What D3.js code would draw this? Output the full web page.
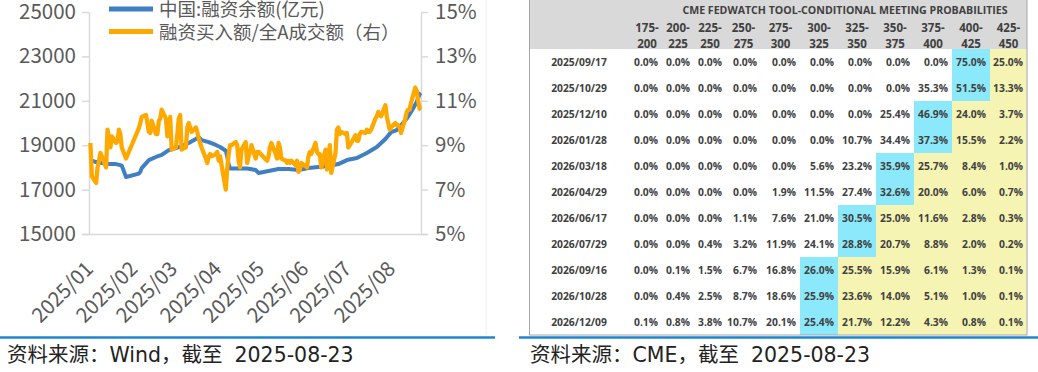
<!DOCTYPE html>
<html><head><meta charset="utf-8">
<script src="https://cdn.jsdelivr.net/npm/d3@7"></script>
<style>body{margin:0;background:#fff}svg{display:block}</style>
</head><body><svg id="c" width="1038" height="372"></svg>
<script>
// ---------- Left chart data ----------
const seriesNames = ["中国:融资余额(亿元)", "融资买入额/全A成交额（右）"];
const leftTicks = [15000, 17000, 19000, 21000, 23000, 25000];
const rightTicks = [5, 7, 9, 11, 13, 15];
const monthTicks = ["2025-01-01","2025-02-01","2025-03-01","2025-04-01","2025-05-01","2025-06-01","2025-07-01","2025-08-01"];
const monthLabels = ["2025/01","2025/02","2025/03","2025/04","2025/05","2025/06","2025/07","2025/08"];

const balanceDates = ["2025-01-02","2025-01-06","2025-01-10","2025-01-15","2025-01-20","2025-01-23","2025-01-24","2025-01-27","2025-02-05","2025-02-06","2025-02-07","2025-02-12","2025-02-17","2025-02-21","2025-02-26","2025-03-03","2025-03-07","2025-03-12","2025-03-17","2025-03-19","2025-03-21","2025-03-26","2025-03-31","2025-04-03","2025-04-07","2025-04-08","2025-04-09","2025-04-10","2025-04-15","2025-04-22","2025-04-28","2025-04-30","2025-05-07","2025-05-14","2025-05-21","2025-05-28","2025-06-04","2025-06-11","2025-06-18","2025-06-25","2025-07-01","2025-07-08","2025-07-15","2025-07-22","2025-07-28","2025-08-01","2025-08-05","2025-08-08","2025-08-12","2025-08-15","2025-08-19","2025-08-21","2025-08-22"];
const balanceValues = [18330,18240,18200,18150,18150,18100,18080,17570,17720,17800,17970,18330,18470,18560,18780,18870,18960,19100,19280,19370,19230,19140,19010,18920,18750,18500,18150,17950,17950,17950,17880,17750,17840,17930,17930,17880,17970,18020,18060,18150,18330,18420,18650,18920,19280,19590,19680,19900,20200,20500,20950,21300,21350];

const ratioDates = ["2025-01-02","2025-01-03","2025-01-06","2025-01-07","2025-01-08","2025-01-09","2025-01-10","2025-01-13","2025-01-14","2025-01-15","2025-01-16","2025-01-17","2025-01-20","2025-01-21","2025-01-22","2025-01-23","2025-01-24","2025-01-27",
"2025-02-05","2025-02-06","2025-02-07","2025-02-10","2025-02-11","2025-02-12","2025-02-13","2025-02-14","2025-02-17","2025-02-18","2025-02-19","2025-02-20","2025-02-21","2025-02-24","2025-02-25","2025-02-26","2025-02-27","2025-02-28",
"2025-03-03","2025-03-04","2025-03-05","2025-03-06","2025-03-07","2025-03-10","2025-03-11","2025-03-12","2025-03-13","2025-03-14","2025-03-17","2025-03-18","2025-03-19","2025-03-20","2025-03-21","2025-03-24","2025-03-25","2025-03-26","2025-03-27","2025-03-28","2025-03-31",
"2025-04-01","2025-04-02","2025-04-03","2025-04-07","2025-04-08","2025-04-09","2025-04-10","2025-04-11","2025-04-14","2025-04-15","2025-04-16","2025-04-17","2025-04-18","2025-04-21","2025-04-22","2025-04-23","2025-04-24","2025-04-25","2025-04-28","2025-04-29","2025-04-30",
"2025-05-06","2025-05-07","2025-05-08","2025-05-09","2025-05-12","2025-05-13","2025-05-14","2025-05-15","2025-05-16","2025-05-19","2025-05-20","2025-05-21","2025-05-22","2025-05-23","2025-05-26","2025-05-27","2025-05-28","2025-05-29","2025-05-30",
"2025-06-03","2025-06-04","2025-06-05","2025-06-06","2025-06-09","2025-06-10","2025-06-11","2025-06-12","2025-06-13","2025-06-16","2025-06-17","2025-06-18","2025-06-19","2025-06-20","2025-06-23","2025-06-24","2025-06-25","2025-06-26","2025-06-27","2025-06-30",
"2025-07-01","2025-07-02","2025-07-03","2025-07-04","2025-07-07","2025-07-08","2025-07-09","2025-07-10","2025-07-11","2025-07-14","2025-07-15","2025-07-16","2025-07-17","2025-07-18","2025-07-21","2025-07-22","2025-07-23","2025-07-24","2025-07-25","2025-07-28","2025-07-29","2025-07-30","2025-07-31",
"2025-08-01","2025-08-04","2025-08-05","2025-08-06","2025-08-07","2025-08-08","2025-08-11","2025-08-12","2025-08-13","2025-08-14","2025-08-15","2025-08-18","2025-08-19","2025-08-20","2025-08-21","2025-08-22"];
const ratioValues = [9.1,7.6,7.3,8.0,8.3,8.65,8.5,8.0,9.7,9.3,8.9,9.4,9.1,9.2,9.7,9.5,8.9,8.4,
9.77,10.0,10.27,10.36,10.0,9.6,9.55,10.1,9.5,9.5,10.1,10.2,10.6,10.2,9.4,9.6,10.27,8.8,
8.9,9.5,10.2,10.36,8.8,8.9,9.8,10.0,9.8,9.6,9.8,9.6,9.3,9.1,8.9,8.4,8.2,8.5,8.6,8.5,8.6,
8.7,8.3,8.5,7.0,7.95,8.6,9.0,9.0,9.14,9.0,8.3,8.0,8.8,9.14,8.2,8.5,8.7,9.0,8.4,8.7,8.7,
8.3,8.5,8.9,9.1,8.6,8.4,9.1,8.9,8.4,8.3,8.2,8.3,8.2,8.3,8.1,8.3,7.8,7.9,8.2,
8.0,8.5,8.7,8.6,9.1,8.7,8.6,8.6,8.0,8.8,7.9,8.5,9.0,7.75,8.65,9.7,9.8,9.5,9.6,9.5,
9.55,8.9,9.0,9.1,9.45,9.2,9.2,9.5,9.6,9.55,9.7,9.6,9.6,9.7,10.2,10.3,10.5,10.4,10.3,10.8,10.3,10.0,9.7,
9.8,10.0,9.9,9.9,9.8,9.55,10.2,10.5,10.6,10.6,10.9,11.6,11.45,11.0,10.65,10.6];

const sourceLeft = ["资料来源：Wind，截至", "2025-08-23"];
const sourceRight = ["资料来源：CME，截至", "2025-08-23"];

// ---------- Right table data ----------
const tableTitle = "CME FEDWATCH TOOL-CONDITIONAL MEETING PROBABILITIES";
const rateBuckets = [["175-","200"],["200-","225"],["225-","250"],["250-","275"],["275-","300"],["300-","325"],["325-","350"],["350-","375"],["375-","400"],["400-","425"],["425-","450"]];
const meetingDates = ["2025/09/17","2025/10/29","2025/12/10","2026/01/28","2026/03/18","2026/04/29","2026/06/17","2026/07/29","2026/09/16","2026/10/28","2026/12/09"];
const probRows = [
 [0.0,0.0,0.0,0.0,0.0,0.0,0.0,0.0,0.0,75.0,25.0],
 [0.0,0.0,0.0,0.0,0.0,0.0,0.0,0.0,35.3,51.5,13.3],
 [0.0,0.0,0.0,0.0,0.0,0.0,0.0,25.4,46.9,24.0,3.7],
 [0.0,0.0,0.0,0.0,0.0,0.0,10.7,34.4,37.3,15.5,2.2],
 [0.0,0.0,0.0,0.0,0.0,5.6,23.2,35.9,25.7,8.4,1.0],
 [0.0,0.0,0.0,0.0,1.9,11.5,27.4,32.6,20.0,6.0,0.7],
 [0.0,0.0,0.0,1.1,7.6,21.0,30.5,25.0,11.6,2.8,0.3],
 [0.0,0.0,0.4,3.2,11.9,24.1,28.8,20.7,8.8,2.0,0.2],
 [0.0,0.1,1.5,6.7,16.8,26.0,25.5,15.9,6.1,1.3,0.1],
 [0.0,0.4,2.5,8.7,18.6,25.9,23.6,14.0,5.1,1.0,0.1],
 [0.1,0.8,3.8,10.7,20.1,25.4,21.7,12.2,4.3,0.8,0.1]
];

// ---------- Drawing ----------
const svg = d3.select("#c");
const parse = d3.timeParse("%Y-%m-%d");
const CJK = "'Noto Sans CJK SC','Noto Sans',sans-serif";
const SRC = "'DejaVu Sans','Noto Sans CJK SC',sans-serif";
const gray = "#595959";

const x = d3.scaleTime().domain([parse("2025-01-01"), parse("2025-08-22")]).range([89, 421]);
const yL = d3.scaleLinear().domain([15000, 25000]).range([234, 12]);
const yR = d3.scaleLinear().domain([5, 15]).range([234, 12]);

// faint frame line
svg.append("line").attr("x1",486).attr("x2",486).attr("y1",0).attr("y2",335).attr("stroke","#eeeeee");

function styleAxis(g){
  g.selectAll("path").attr("stroke","#d9d9d9").attr("stroke-width",1.5);
  g.selectAll("line").attr("stroke","#d9d9d9").attr("stroke-width",1.5);
  g.selectAll("text").attr("fill",gray).style("font-family",CJK).style("font-size","20.5px");
}
const gL = svg.append("g").attr("transform","translate(89,0)")
  .call(d3.axisLeft(yL).tickValues(leftTicks).tickSize(7).tickSizeOuter(0).tickPadding(6).tickFormat(d3.format("d")));
styleAxis(gL);
const gR = svg.append("g").attr("transform","translate(421,0)")
  .call(d3.axisRight(yR).tickValues(rightTicks).tickSize(7).tickSizeOuter(0).tickPadding(7).tickFormat(d => d + "%"));
styleAxis(gR);
svg.append("line").attr("x1",82).attr("x2",428).attr("y1",234.5).attr("y2",234.5).attr("stroke","#d9d9d9").attr("stroke-width",1.5);

const gB = svg.append("g").attr("transform","translate(0,234)")
  .call(d3.axisBottom(x).tickValues(monthTicks.map(parse)).tickSize(0)
    .tickFormat((d,i) => monthLabels[i]));
gB.select("path").remove();
gB.selectAll("text").attr("fill",gray).style("font-family",CJK).style("font-size","20.5px")
  .attr("text-anchor","end").attr("dy","0.35em")
  .attr("transform","translate(0,31) rotate(-45)").attr("y",0);

const balance = balanceDates.map((d,i)=>({d:parse(d), v:balanceValues[i]}));
const ratio = ratioDates.map((d,i)=>({d:parse(d), v:ratioValues[i]}));
const colors = ["#3f7fc2", "#ffa800"];
svg.append("path").datum(balance)
  .attr("d", d3.line().x(p=>x(p.d)).y(p=>yL(p.v)))
  .attr("fill","none").attr("stroke",colors[0]).attr("stroke-width",4).attr("stroke-linejoin","round");
svg.append("path").datum(ratio)
  .attr("d", d3.line().x(p=>x(p.d)).y(p=>yR(p.v)))
  .attr("fill","none").attr("stroke",colors[1]).attr("stroke-width",4.3).attr("stroke-linejoin","round");

// legend
seriesNames.forEach((n,i)=>{
  const yy = 10 + i*22.5;
  svg.append("line").attr("x1",109).attr("x2",153).attr("y1",yy-1).attr("y2",yy-1)
    .attr("stroke",colors[i]).attr("stroke-width",5);
  svg.append("text").attr("x",159).attr("y",yy).attr("dy","0.35em").text(n)
    .attr("fill",gray).style("font-family",CJK).style("font-size","18.5px");
});

// source lines
svg.append("line").attr("x1",0).attr("x2",495).attr("y1",337.5).attr("y2",337.5).attr("stroke","#1f86cf").attr("stroke-width",2.5);
svg.append("line").attr("x1",519).attr("x2",1038).attr("y1",337.5).attr("y2",337.5).attr("stroke","#1f86cf").attr("stroke-width",2.5);
[[7, sourceLeft], [530, sourceRight]].forEach(([sx, parts])=>{
  const t = svg.append("text").attr("x",sx).attr("y",362).attr("fill","#222")
    .style("font-family",SRC).style("font-size","20.5px");
  t.append("tspan").text(parts[0]);
  t.append("tspan").attr("dx",12).text(parts[1]);
});

// ---------- table ----------
const TF = "'Open Sans','DejaVu Sans',sans-serif";
const tColor = "#404040";
const colEdges = [632,662,694,726,761,800,838,876,914,952,990,1027];
const tLeft = 529, tRight = 1027, headH = 49, tBottom = 335;
const rowY = d3.scaleBand().domain(meetingDates).range([headH, tBottom]);

svg.append("rect").attr("x",tLeft).attr("y",0).attr("width",tRight-tLeft).attr("height",headH).attr("fill","#d9d9d9");
// cells colouring
probRows.forEach((row,ri)=>{
  const maxI = row.indexOf(d3.max(row));
  row.forEach((v,ci)=>{
    if (ci >= maxI) {
      svg.append("rect").attr("x",colEdges[ci]).attr("y",rowY(meetingDates[ri]))
        .attr("width",colEdges[ci+1]-colEdges[ci]).attr("height",rowY.bandwidth())
        .attr("fill", ci===maxI ? "#8ce9fb" : "#f6f4b2");
    }
  });
});
svg.append("rect").attr("x",tLeft+0.5).attr("y",-1).attr("width",tRight-tLeft-0.5).attr("height",tBottom+1)
  .attr("fill","none").attr("stroke","#a6a6a6").attr("stroke-width",1);

svg.append("text").attr("x",845).attr("y",10).attr("dy","0.35em").attr("text-anchor","middle")
  .text(tableTitle).attr("fill",tColor).style("font-family",TF).style("font-weight","700").style("font-size","10.6px");
rateBuckets.forEach((b,ci)=>{
  const cx = (colEdges[ci]+colEdges[ci+1])/2;
  b.forEach((t,li)=>{
    svg.append("text").attr("x",cx).attr("y",28 + li*15.5).attr("dy","0.35em").attr("text-anchor","middle")
      .text(t).attr("fill",tColor).style("font-family",TF).style("font-weight","700").style("font-size","11.5px");
  });
});
meetingDates.forEach((d,ri)=>{
  const cy = rowY(d) + rowY.bandwidth()/2;
  svg.append("text").attr("x",579).attr("y",cy).attr("dy","0.35em").attr("text-anchor","middle")
    .text(d).attr("fill",tColor).style("font-family",TF).style("font-weight","700").style("font-size","10.3px");
  probRows[ri].forEach((v,ci)=>{
    svg.append("text").attr("x",colEdges[ci+1]-4).attr("y",cy).attr("dy","0.35em").attr("text-anchor","end")
      .text(v.toFixed(1)+"%").attr("fill",tColor).style("font-family",TF).style("font-weight","700").style("font-size","10.3px");
  });
});
</script></body></html>
